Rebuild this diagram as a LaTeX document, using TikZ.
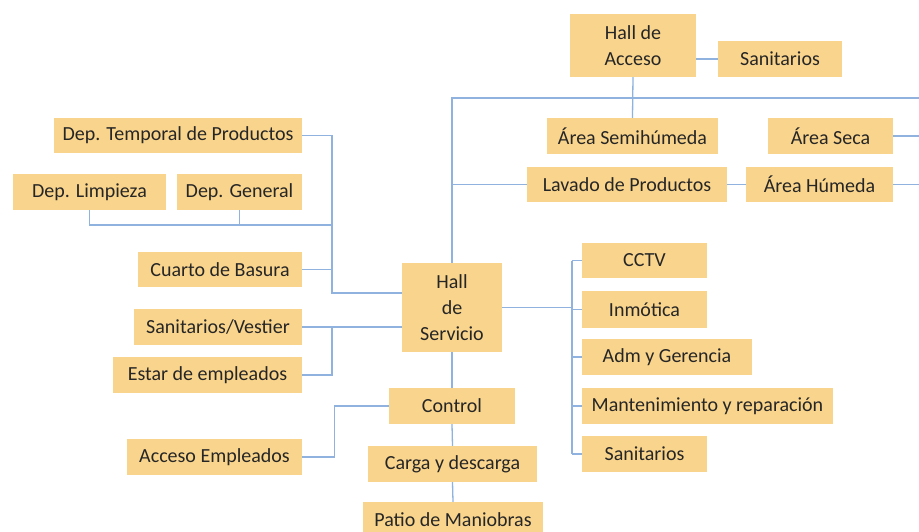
\documentclass[tikz,border=0pt]{standalone}
\usepackage{fontspec}
\setmainfont{Carlito}
\usetikzlibrary{calc}
\definecolor{boxorange}{HTML}{F9D48C}
\definecolor{lineblue}{HTML}{8FB3DE}
\definecolor{textgray}{HTML}{262626}
\begin{document}
\begin{tikzpicture}[x=1pt, y=-1pt,
  box/.style={fill=boxorange, draw=none, text=textgray, align=center, inner sep=1pt,
    font=\fontsize{20}{26}\selectfont},
  link/.style={draw=lineblue, line width=1.3pt}]
      \useasboundingbox[fill=white] (0,0) rectangle (919,531);

      % hall de acceso
      \node at (633,45.5) [box, minimum width=126pt, minimum height=63pt] (acceso) {Hall de\\Acceso};
      \node at (780,59) [box, minimum width=124pt, minimum height=36pt] (sanA) {Sanitarios};
      \node at (632.5,136) [box, minimum width=171pt, minimum height=36pt] (semih) {Área Semihúmeda};
      \node at (830.5,136) [box, minimum width=125pt, minimum height=36pt] (seca) {Área Seca};
      \node at (627,184.5) [box, minimum width=200pt, minimum height=35pt] (lavado) {Lavado de Productos};
      \node at (819.5,184.5) [box, minimum width=147pt, minimum height=35pt] (humeda) {Área Húmeda};

      % hall de servicio
      \node at (452,307.5) [box, minimum width=100pt, minimum height=89pt] (servicio) {Hall\\de\\Servicio};

      \node at (178,135.5) [box, minimum width=248pt, minimum height=35pt] (temporal) {Dep. Temporal de Productos};
      \node at (89.5,192) [box, minimum width=153pt, minimum height=36pt] (limpieza) {Dep. Limpieza};
      \node at (239.5,192) [box, minimum width=125pt, minimum height=36pt] (general) {Dep. General};
      \node at (220,269.5) [box, minimum width=164pt, minimum height=35pt] (basura) {Cuarto de Basura};
      \node at (218,327) [box, minimum width=168pt, minimum height=36pt] (vestier) {Sanitarios/Vestier};
      \node at (207.5,375) [box, minimum width=189pt, minimum height=36pt] (estar) {Estar de empleados};

      \node at (452,406) [box, minimum width=126pt, minimum height=36pt] (control) {Control};
      \node at (214.5,457) [box, minimum width=175pt, minimum height=36pt] (accemp) {Acceso Empleados};
      \node at (452.5,464) [box, minimum width=169pt, minimum height=36pt] (carga) {Carga y descarga};
      \node at (453,520) [box, minimum width=180pt, minimum height=36pt] (patio) {Patio de Maniobras};

      \node at (644.5,260.5) [box, minimum width=125pt, minimum height=35pt] (cctv) {CCTV};
      \node at (644.5,309.5) [box, minimum width=125pt, minimum height=37pt] (inmotica) {Inmótica};
      \node at (667,357) [box, minimum width=170pt, minimum height=36pt] (adm) {Adm y Gerencia};
      \node at (707.5,406) [box, minimum width=251pt, minimum height=36pt] (mant) {Mantenimiento y reparación};
      \node at (644.5,454) [box, minimum width=125pt, minimum height=36pt] (sanB) {Sanitarios};

      % junctions
      \coordinate (topL) at (452,98);
      \coordinate (topR) at (919,98);
      \coordinate (secaR) at (919,136);
      \coordinate (humR) at (919,184.5);
      \coordinate (busL) at (332,293);
      \coordinate (depbus) at (332,225);
      \coordinate (busR) at (572,307.5);

      \draw[link] (sanA.west) -- (sanA.west -| acceso.east);
      \draw[link] (servicio.north) -- (topL) -- (topR);
      \draw[link] (acceso.south) -- (semih.north);
      \draw[link] (seca.east) -- (secaR);
      \draw[link] (humeda.east) -- (humR);
      \draw[link] (lavado.east) -- (humeda.west);
      \draw[link] (lavado.west) -- (lavado.west -| topL);

      \draw[link] (temporal.east) -| (busL) -- (busL -| servicio.west);
      \draw[link] (limpieza.south) |- (depbus);
      \draw[link] (general.south) -- (general.south |- depbus);
      \draw[link] (basura.east) -- (basura.east -| busL);
      \draw[link] (vestier.east) -- (vestier.east -| servicio.west);
      \draw[link] (estar.east) -| (vestier.east -| busL);

      \draw[link] (servicio.south) -- (control.north);
      \draw[link] (control.south) -- (carga.north);
      \draw[link] (carga.south) -- (patio.north);
      \draw[link] (control.west) -- ++(-54,0) |- (accemp.east);

      \draw[link] (servicio.east) -- (busR);
      \draw[link] (cctv.west -| busR) -- (sanB.west -| busR);
      \foreach \n in {cctv,inmotica,adm,mant,sanB}
        \draw[link] (\n.west) -- (\n.west -| busR);
\end{tikzpicture}
\end{document}
